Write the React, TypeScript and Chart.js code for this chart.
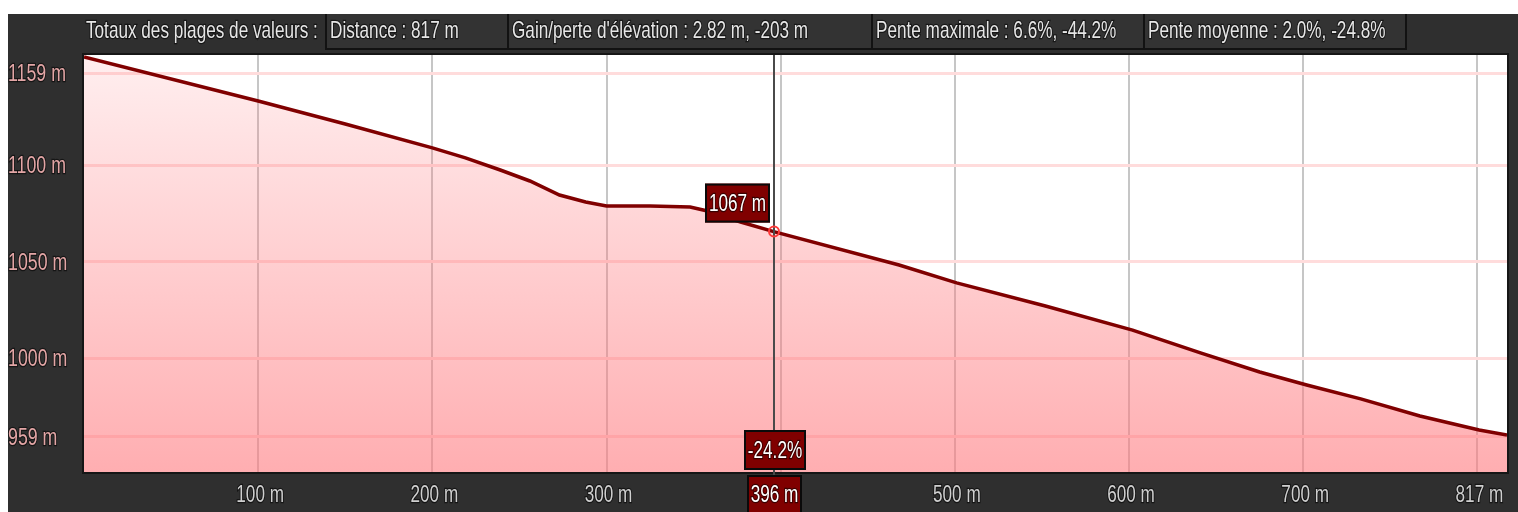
import React, { useEffect, useRef } from "react";
import { Chart, registerables } from "chart.js";

Chart.register(...registerables);

// ---- data ----
const distances = [0, 100, 150, 200, 219, 239, 256, 273, 288, 300, 325, 348, 358, 377, 396, 468, 501, 552, 602, 641, 675, 702, 733, 767, 801, 817];
const elevations = [1156.6, 1133.7, 1121.7, 1109.3, 1104.1, 1097.8, 1092.1, 1084.8, 1081.2, 1079.1, 1079.1, 1078.6, 1076.5, 1070.8, 1065.8, 1048.4, 1039.1, 1027.1, 1014.6, 1002.7, 992.8, 986.0, 978.8, 969.9, 962.6, 960.0];

const xTickValues = [100, 200, 300, 400, 500, 600, 700, 800];
const xTickLabels = ["100 m", "200 m", "300 m", "", "500 m", "600 m", "700 m", "817 m"];
const yTickValues = [959, 1000, 1050, 1100, 1148];
const yTickLabels = ["959 m", "1000 m", "1050 m", "1100 m", "1159 m"];

const headerTitle = "Totaux des plages de valeurs :";
const headerItems = [
  "Distance : 817 m",
  "Gain/perte d'élévation : 2.82 m, -203 m",
  "Pente maximale : 6.6%, -44.2%",
  "Pente moyenne : 2.0%, -24.8%",
];

const cursorDistance = 396;
const cursorElevation = 1065.8;
const cursorElevationLabel = "1067 m";
const cursorSlopeLabel = "-24.2%";
const cursorDistanceLabel = "396 m";

const xMin = 0;
const xMax = 817;
const yMin = 940.8;
const yMax = 1157.6;

// ---- styling ----
const W = 1518;
const H = 512;
const FONT = '24px "Liberation Sans", Arial, sans-serif';
const SX = 0.715;
const headerBoxX = [325, 507, 871, 1143, 1407];

function drawText(ctx: CanvasRenderingContext2D, text: string, x: number, y: number, align: CanvasTextAlign, color: string, sx = SX) {
  ctx.save();
  ctx.translate(x, y);
  ctx.scale(sx, 1);
  ctx.font = FONT;
  ctx.textAlign = align;
  ctx.textBaseline = "middle";
  ctx.lineWidth = 2.5;
  ctx.strokeStyle = "rgba(0,0,0,0.55)";
  ctx.strokeText(text, 0, 0);
  ctx.fillStyle = color;
  ctx.fillText(text, 0, 0);
  ctx.restore();
}

function labelBox(ctx: CanvasRenderingContext2D, text: string, x0: number, y0: number, x1: number, y1: number) {
  ctx.save();
  ctx.fillStyle = "#800000";
  ctx.fillRect(x0, y0, x1 - x0, y1 - y0);
  ctx.strokeStyle = "#0a0a0a";
  ctx.lineWidth = 2;
  ctx.strokeRect(x0 + 1, y0 + 1, x1 - x0 - 2, y1 - y0 - 2);
  ctx.restore();
  drawText(ctx, text, (x0 + x1) / 2, (y0 + y1) / 2 + 1, "center", "#ffffff");
}

const decorPlugin = {
  id: "decor",
  beforeDraw(chart: any) {
    const ctx: CanvasRenderingContext2D = chart.ctx;
    const a = chart.chartArea;
    ctx.save();
    ctx.fillStyle = "#ffffff";
    ctx.fillRect(0, 0, W, H);
    ctx.fillStyle = "#2f2f2f";
    ctx.fillRect(8, 14, W - 8, H - 14);
    ctx.fillStyle = "#ffffff";
    ctx.fillRect(a.left, a.top, a.right - a.left, a.bottom - a.top);
    ctx.restore();
  },
  afterDraw(chart: any) {
    const ctx: CanvasRenderingContext2D = chart.ctx;
    const a = chart.chartArea;
    const xs = chart.scales.x;
    const ys = chart.scales.y;

    // plot border
    ctx.save();
    ctx.strokeStyle = "#161616";
    ctx.lineWidth = 2;
    ctx.strokeRect(a.left - 1, a.top - 1, a.right - a.left + 2, a.bottom - a.top + 2);
    ctx.restore();

    // header
    ctx.save();
    for (let i = 0; i < headerItems.length; i++) {
      const x0 = headerBoxX[i];
      const x1 = headerBoxX[i + 1];
      ctx.fillStyle = "#333333";
      ctx.fillRect(x0, 14, x1 - x0, 36);
      ctx.fillStyle = "#121212";
      ctx.fillRect(x0, 14, 2, 36);
      ctx.fillRect(x0, 48, x1 - x0, 2);
    }
    ctx.fillStyle = "#121212";
    ctx.fillRect(headerBoxX[headerBoxX.length - 1] - 2, 14, 2, 36);
    ctx.restore();
    drawText(ctx, headerTitle, 86, 31, "left", "#e6e6e6");
    headerItems.forEach((t, i) => drawText(ctx, t, headerBoxX[i] + 5, 31, "left", "#e6e6e6"));

    // y tick labels
    yTickValues.forEach((v, i) => {
      drawText(ctx, yTickLabels[i], 8, ys.getPixelForValue(v) + 1, "left", "#e3a6a6", 0.74);
    });
    // x tick labels
    xTickValues.forEach((v, i) => {
      if (!xTickLabels[i]) return;
      drawText(ctx, xTickLabels[i], xs.getPixelForValue(v) + 2, 495, "center", "#cfcfcf");
    });

    // crosshair
    const cx = Math.round(xs.getPixelForValue(cursorDistance));
    const cy = ys.getPixelForValue(cursorElevation);
    ctx.save();
    ctx.strokeStyle = "#4a4a4a";
    ctx.lineWidth = 2;
    ctx.beginPath();
    ctx.moveTo(cx, a.top);
    ctx.lineTo(cx, H);
    ctx.stroke();
    ctx.strokeStyle = "#ff3a3a";
    ctx.lineWidth = 2;
    ctx.beginPath();
    ctx.arc(cx, cy, 5, 0, Math.PI * 2);
    ctx.stroke();
    ctx.restore();

    labelBox(ctx, cursorElevationLabel, cx - 69, cy - 48, cx - 4, cy - 9);
    labelBox(ctx, cursorSlopeLabel, cx - 30, a.bottom - 42, cx + 32, a.bottom - 2);
    labelBox(ctx, cursorDistanceLabel, cx - 27, a.bottom + 3, cx + 28, H + 2);
  },
};

export default function App() {
  const ref = useRef<HTMLCanvasElement | null>(null);

  useEffect(() => {
    if (!ref.current) return;
    const points = distances.map((d, i) => ({ x: d, y: elevations[i] }));
    const chart = new Chart(ref.current, {
      type: "line",
      data: {
        datasets: [
          {
            data: points,
            borderColor: "#800000",
            borderWidth: 3.5,
            pointRadius: 0,
            tension: 0,
            fill: "start",
            backgroundColor: (c: any) => {
              const area = c.chart.chartArea;
              if (!area) return "rgba(255,120,125,0.4)";
              const g = c.chart.ctx.createLinearGradient(0, area.top, 0, area.bottom);
              g.addColorStop(0, "rgba(255,120,125,0.12)");
              g.addColorStop(1, "rgba(255,120,125,0.6)");
              return g;
            },
          },
        ],
      },
      options: {
        animation: false,
        responsive: false,
        devicePixelRatio: 1,
        layout: { padding: { left: 84, right: 11, top: 55, bottom: 40 } },
        plugins: { legend: { display: false }, tooltip: { enabled: false } },
        events: [],
        scales: {
          x: {
            type: "linear",
            min: xMin,
            max: xMax,
            afterBuildTicks: (s: any) => {
              s.ticks = xTickValues.map((v) => ({ value: v }));
            },
            afterFit: (s: any) => {
              s.height = 0;
            },
            ticks: { display: false },
            grid: { color: "#c6c6c6", lineWidth: 2, drawTicks: false },
            border: { display: false },
          },
          y: {
            type: "linear",
            min: yMin,
            max: yMax,
            afterBuildTicks: (s: any) => {
              s.ticks = yTickValues.map((v) => ({ value: v }));
            },
            afterFit: (s: any) => {
              s.width = 0;
            },
            ticks: { display: false },
            grid: { color: "#ffdcdc", lineWidth: 3, drawTicks: false },
            border: { display: false },
          },
        },
      },
      plugins: [decorPlugin],
    } as any);
    return () => chart.destroy();
  }, []);

  return (
    <div style={{ position: "fixed", left: 0, top: 0, width: W, height: H, overflow: "hidden" }}>
      <canvas ref={ref} width={W} height={H} style={{ display: "block", width: W, height: H }} />
    </div>
  );
}
